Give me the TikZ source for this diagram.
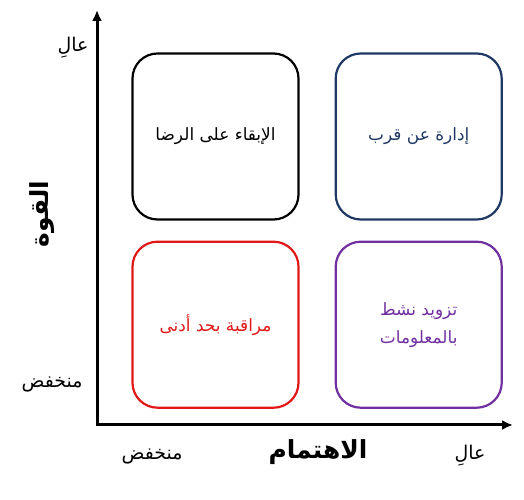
\documentclass[tikz,border=0pt]{standalone}
\usepackage{fontspec}
\usepackage{tikz}
\usetikzlibrary{arrows.meta,positioning}
\TeXXeTstate=1
\newfontfamily\arabicfont[Script=Arabic]{DejaVu Sans}
\definecolor{navyline}{RGB}{31,56,100}
\definecolor{redline}{RGB}{224,24,24}
\definecolor{purpleline}{RGB}{112,48,160}
\tikzset{%
	quadbox/.style = {draw, rectangle, rounded corners=25bp, line width=2.2bp, minimum width=166bp, minimum height=166bp, align=center, font=\arabicfont\fontsize{17}{28}\selectfont},
	axis/.style    = {line width=3bp, {Latex[length=11bp,width=10bp]}-{Latex[length=11bp,width=10bp]}},
	ticklabel/.style = {font=\arabicfont\fontsize{19}{22}\selectfont},
	axislabel/.style = {font=\arabicfont\bfseries\fontsize{25}{28}\selectfont},
}
\begin{document}
\begin{tikzpicture}[x=1bp,y=1bp]
		\useasboundingbox (0,0) rectangle (524,500);
		\coordinate (origin) at (97,75);
		\coordinate (ytop) at (97,490);
		\coordinate (xend) at (513,75);
		\draw[axis] (ytop) -- (origin) -- (xend);
		
		\node[quadbox] (keep) at (215.5,363.5) {\beginR الإبقاء على الرضا\endR};
		\node[quadbox, draw=navyline, text=navyline, right=35bp of keep] (manage) {\beginR إدارة عن قرب\endR};
		\node[quadbox, draw=redline, text=redline, below=20bp of keep] (monitor) {\beginR مراقبة بحد أدنى\endR};
		\node[quadbox, draw=purpleline, text=purpleline, below=20bp of manage] (inform) {\beginR تزويد نشط\endR\\\beginR بالمعلومات\endR};
		
		\node[ticklabel] (yhigh) at (73,452) {\beginR عالِ\endR};
		\node[ticklabel] (ylow) at (52,116) {\beginR منخفض\endR};
		\node[ticklabel] (xlow) at (152,44) {\beginR منخفض\endR};
		\node[ticklabel] (xhigh) at (470,44) {\beginR عالِ\endR};
		\node[axislabel] (interest) at (318,48) {\beginR الاهتمام\endR};
		\node[axislabel, rotate=90] (power) at (42,286) {\beginR القوة\endR};
\end{tikzpicture}
\end{document}
